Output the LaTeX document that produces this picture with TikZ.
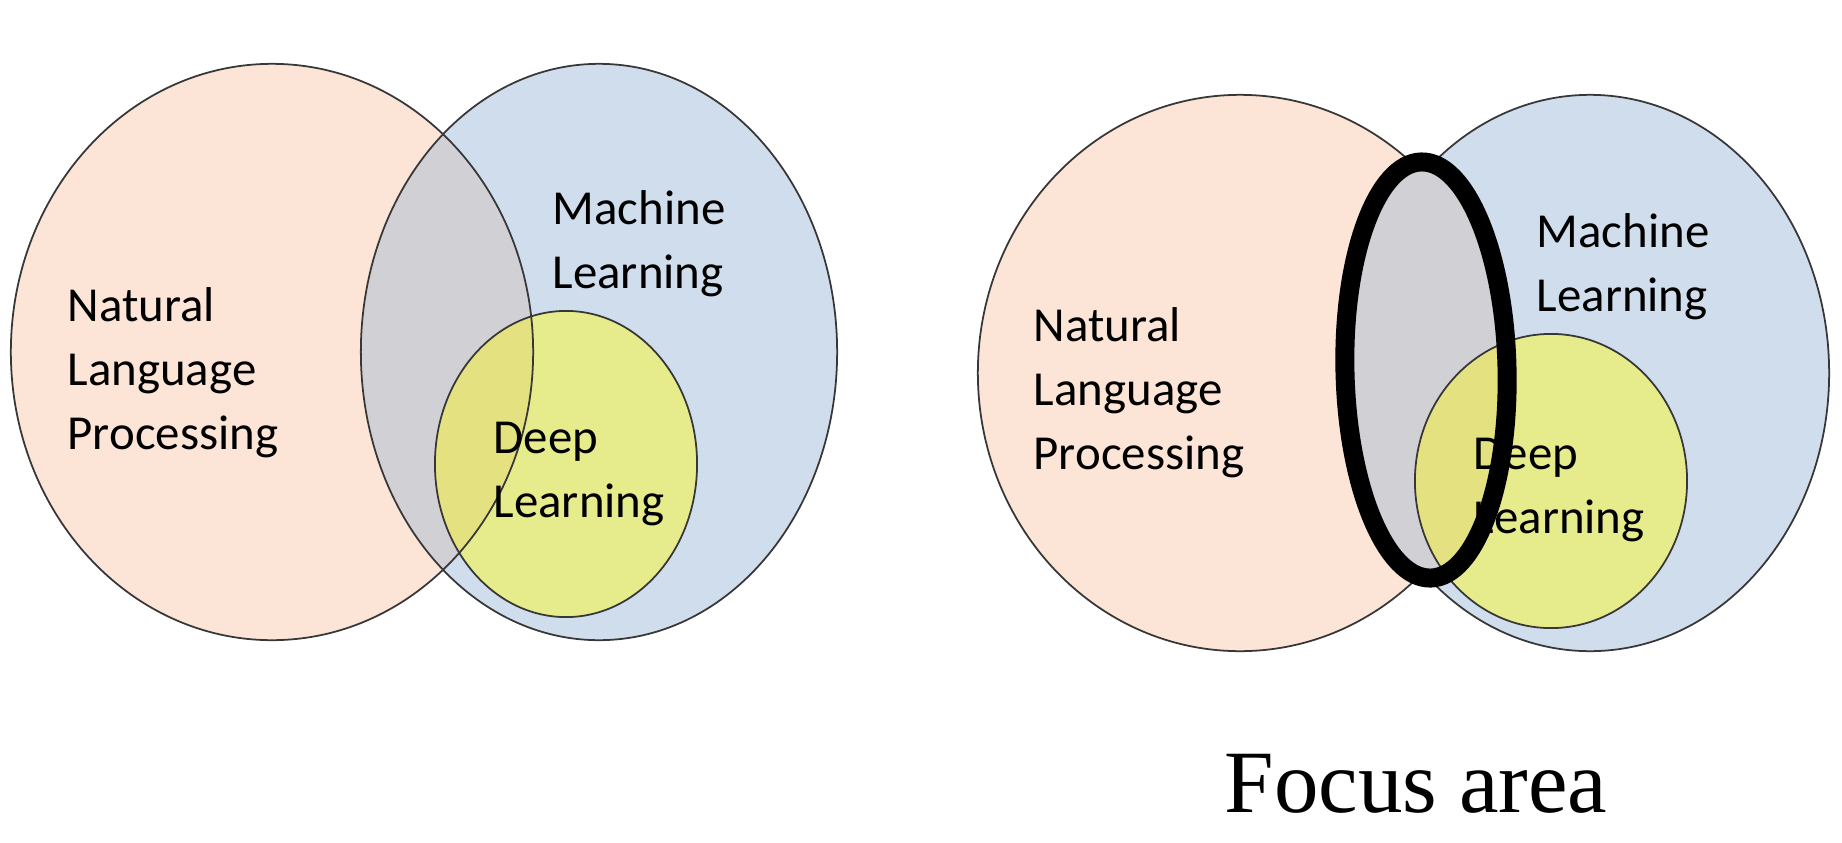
\documentclass[tikz,border=0pt]{standalone}
\usepackage{fontspec}
\setmainfont{Carlito}
\newfontfamily\focusfont{Liberation Serif}
\usetikzlibrary{positioning}

\definecolor{nlpcol}{RGB}{252,228,214}
\definecolor{mlcol}{RGB}{207,221,236}
\definecolor{lenscol}{RGB}{208,208,213}
\definecolor{dlcol}{RGB}{230,235,140}
\definecolor{dlnlpcol}{RGB}{228,226,128}
\definecolor{rimcol}{RGB}{55,55,55}

\begin{document}
\begin{tikzpicture}[x=0.01cm, y=-0.01cm,
    rim/.style={draw=rimcol, line width=0.5pt},
    label/.style={inner sep=0pt, align=left, anchor=west,
      font=\fontsize{13.9}{18.2}\selectfont},
    focusring/.style={draw=black, line width=5.4pt, rotate around={1.3:(1426,370)}}]
  \useasboundingbox (0,0) rectangle (1842,842);
  % left diagram
  \fill[nlpcol] (272,352) ellipse [x radius=2.61cm, y radius=2.88cm];
  \fill[mlcol] (599,352) ellipse [x radius=2.38cm, y radius=2.88cm];
  \begin{scope}
    \clip (272,352) ellipse [x radius=2.61cm, y radius=2.88cm];
    \fill[lenscol] (599,352) ellipse [x radius=2.38cm, y radius=2.88cm];
  \end{scope}
  \fill[dlcol] (566,464) ellipse [x radius=1.31cm, y radius=1.53cm];
  \begin{scope}
    \clip (272,352) ellipse [x radius=2.61cm, y radius=2.88cm];
    \fill[dlnlpcol] (566,464) ellipse [x radius=1.31cm, y radius=1.53cm];
  \end{scope}
  \draw[rim] (272,352) ellipse [x radius=2.61cm, y radius=2.88cm];
  \draw[rim] (599,352) ellipse [x radius=2.38cm, y radius=2.88cm];
  \draw[rim] (566,464) ellipse [x radius=1.31cm, y radius=1.53cm];
  \node[label] (nlpA) at (67,373) {Natural\\Language\\Processing};
  \node[label] (mlA) at (552,244) {Machine\\Learning};
  \node[label] (dlA) at (493,474) {Deep\\Learning};
  % right diagram
  \fill[nlpcol] (1240,373) ellipse [x radius=2.62cm, y radius=2.78cm];
  \fill[mlcol] (1590,373) ellipse [x radius=2.39cm, y radius=2.78cm];
  \draw[rim] (1240,373) ellipse [x radius=2.62cm, y radius=2.78cm];
  \draw[rim] (1590,373) ellipse [x radius=2.39cm, y radius=2.78cm];
  \fill[lenscol, rotate around={1.3:(1426,370)}] (1426,370) ellipse [x radius=0.81cm, y radius=2.08cm];
  \fill[dlcol] (1551,481) ellipse [x radius=1.36cm, y radius=1.47cm];
  \begin{scope}
    \clip[rotate around={1.3:(1426,370)}] (1426,370) ellipse [x radius=0.81cm, y radius=2.08cm];
    \fill[dlnlpcol] (1551,481) ellipse [x radius=1.36cm, y radius=1.47cm];
  \end{scope}
  \draw[rim] (1551,481) ellipse [x radius=1.36cm, y radius=1.47cm];
  \node[label] (nlpB) at (1033,393) {Natural\\Language\\Processing};
  \node[label] (mlB) at (1536,267) {Machine\\Learning};
  \node[label] (dlB) at (1473,490) {Deep\\Learning};
  \draw[focusring] (1426,370) ellipse [x radius=0.81cm, y radius=2.08cm];
  \node[inner sep=0pt, anchor=base, font=\focusfont\fontsize{25.3}{30}\selectfont]
    (focus) at (1416,812) {Focus area};
\end{tikzpicture}
\end{document}
